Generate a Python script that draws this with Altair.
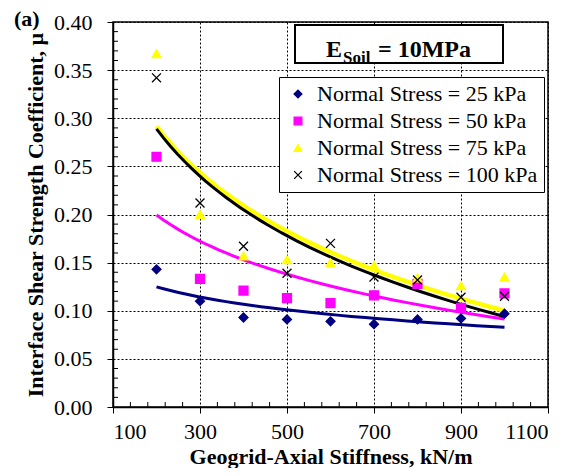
import altair as alt
import pandas as pd
import numpy as np

# ---- data ----
stiffness = [200, 300, 400, 500, 600, 700, 800, 900, 1000]
mu_25 = [0.143, 0.110, 0.093, 0.091, 0.089, 0.086, 0.091, 0.092, 0.097]
mu_50 = [0.260, 0.133, 0.121, 0.113, 0.108, 0.116, 0.128, 0.103, 0.118]
mu_75 = [0.367, 0.200, 0.157, 0.153, 0.150, 0.147, 0.134, 0.126, 0.135]
mu_100 = [0.342, 0.212, 0.167, 0.139, 0.170, 0.135, 0.132, 0.114, 0.115]

series_names = ["Normal Stress = 25 kPa", "Normal Stress = 50 kPa",
                 "Normal Stress = 75 kPa", "Normal Stress = 100 kPa"]
series_colors = ["#000080", "#FF00FF", "#FFFF00", "#000000"]
series_shapes = ["diamond", "square", "triangle-up", "M-1,-1L1,1M-1,1L1,-1"]
line_widths = [3, 3, 4.5, 3]

x_ticks = [100, 300, 500, 700, 900, 1100]
y_ticks = [0.0, 0.05, 0.10, 0.15, 0.20, 0.25, 0.30, 0.35, 0.40]

rows = []
for name, vals in zip(series_names, [mu_25, mu_50, mu_75, mu_100]):
    for s, v in zip(stiffness, vals):
        rows.append({"series": name, "stiffness": s, "mu": v})
df = pd.DataFrame(rows)

FONT = "Liberation Serif"
W, H = 435, 385

xscale = alt.Scale(domain=[100, 1100], nice=False, zero=False)
yscale = alt.Scale(domain=[0, 0.4], nice=False, zero=True)

xaxis = alt.Axis(values=x_ticks, title="Geogrid-Axial Stiffness, kN/m", format="d",
                 grid=True, gridColor="black", gridDash=[2, 2], gridWidth=1,
                 tickSize=6, labelPadding=8, titlePadding=4)
yaxis = alt.Axis(values=y_ticks, title="Interface Shear Strength Coefficient, µ", format=".2f",
                 grid=True, gridColor="black", gridDash=[2, 2], gridWidth=1,
                 tickSize=6, labelPadding=15, titlePadding=6)

base = alt.Chart(df)

# trend lines (logarithmic fit, like the spreadsheet trendlines)
line_layers = []
for name, col, lw in zip(series_names, series_colors, line_widths):
    line_layers.append(
        base.transform_filter(alt.datum.series == name)
        .transform_regression("stiffness", "mu", method="log", extent=[200, 1000])
        .mark_line(color=col, strokeWidth=lw, clip=False)
        .encode(x=alt.X("stiffness:Q", scale=xscale, axis=xaxis),
                y=alt.Y("mu:Q", scale=yscale, axis=yaxis))
    )

legend = alt.Legend(title=None, orient="none", legendX=166, legendY=55)
points = base.mark_point(filled=True, size=80, strokeWidth=1.3, opacity=1).encode(
    x=alt.X("stiffness:Q", scale=xscale, axis=xaxis),
    y=alt.Y("mu:Q", scale=yscale, axis=yaxis),
    fill=alt.Fill("series:N", scale=alt.Scale(domain=series_names, range=series_colors), legend=legend),
    stroke=alt.Stroke("series:N", scale=alt.Scale(domain=series_names, range=series_colors), legend=legend),
    shape=alt.Shape("series:N", scale=alt.Scale(domain=series_names, range=series_shapes), legend=legend),
)

# minor ticks (inside the frame)
ymin_vals = [round(v, 2) for v in np.arange(0.01, 0.40, 0.01) if round(v * 100) % 5 != 0]
xmin_vals = [v for v in range(140, 1100, 40) if (v - 100) % 200 != 0]
yminor = alt.Chart(pd.DataFrame({"mu": ymin_vals})).mark_rule(
    color="black", strokeWidth=1).encode(
    y=alt.Y("mu:Q", scale=yscale, axis=yaxis), x=alt.value(0), x2=alt.value(5))
xminor = alt.Chart(pd.DataFrame({"stiffness": xmin_vals})).mark_rule(color="black", strokeWidth=1).encode(
    x=alt.X("stiffness:Q", scale=xscale, axis=xaxis), y=alt.value(H), y2=alt.value(H - 5))

# annotation box
one = pd.DataFrame({"t": ["x"]})
box = alt.Chart(one).mark_rect(fill="white", stroke="black", strokeWidth=2).encode(
    x=alt.value(182), x2=alt.value(390), y=alt.value(3), y2=alt.value(41))
t_e = alt.Chart(one).mark_text(text="E", font=FONT, fontSize=24, fontWeight="bold",
                               align="left", baseline="alphabetic", color="black").encode(
    x=alt.value(213), y=alt.value(35))
t_sub = alt.Chart(one).mark_text(text="Soil", font=FONT, fontSize=17, fontWeight="bold",
                                 align="left", baseline="alphabetic", color="black").encode(
    x=alt.value(230), y=alt.value(41))
t_rest = alt.Chart(one).mark_text(text="= 10MPa", font=FONT, fontSize=24, fontWeight="bold",
                                  align="left", baseline="alphabetic", color="black").encode(
    x=alt.value(265), y=alt.value(35))
t_a = alt.Chart(one).mark_text(text="(a)", font=FONT, fontSize=22, fontWeight="bold",
                               align="left", baseline="alphabetic", color="black").encode(
    x=alt.value(-99), y=alt.value(4))

chart = alt.layer(*line_layers, points, yminor, xminor, box, t_e, t_sub, t_rest, t_a).properties(
    width=W, height=H,
    autosize=alt.AutoSizeParams(type="none"),
    padding={"left": 105, "top": 14, "right": 32, "bottom": 61},
).configure_view(
    stroke="black", strokeWidth=1.5
).configure_axis(
    labelFont=FONT, labelFontSize=22, labelColor="black",
    titleFont=FONT, titleFontSize=22, titleFontWeight="bold", titleColor="black",
    domainColor="black", tickColor="black", domainWidth=1.5,
).configure_legend(
    labelFont=FONT, labelFontSize=22, labelColor="black",
    fillColor="white", strokeColor="black", strokeWidth=1,
    padding=6, rowPadding=5, symbolSize=60, symbolStrokeWidth=1.3,
    symbolOffset=2, labelOffset=8, labelLimit=400,
)

chart.save("out.html", embed_options={"renderer": "svg", "actions": False})
